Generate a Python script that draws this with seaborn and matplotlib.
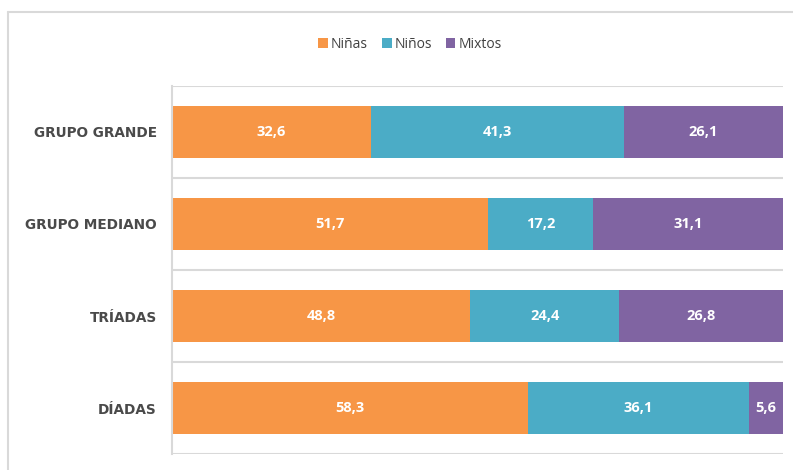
import numpy as np
import pandas as pd
import seaborn as sns
import matplotlib.pyplot as plt
from matplotlib.lines import Line2D
from matplotlib.patches import Patch

# Datos
grupos = ['GRUPO GRANDE', 'GRUPO MEDIANO', 'TRÍADAS', 'DÍADAS']
ninas = [32.6, 51.7, 48.8, 58.3]
ninos = [41.3, 17.2, 24.4, 36.1]
mixtos = [26.1, 31.1, 26.8, 5.6]
series = ['Niñas', 'Niños', 'Mixtos']
colores = ['#F79646', '#4BACC6', '#8064A2']

df = pd.DataFrame({'grupo': grupos, 'Niñas': ninas, 'Niños': ninos, 'Mixtos': mixtos})
df['acum_ninas'] = df['Niñas']
df['acum_ninos'] = df['Niñas'] + df['Niños']
df['acum_mixtos'] = df['acum_ninos'] + df['Mixtos']

sns.set_theme(style='white')
plt.rcParams['font.family'] = ['Open Sans', 'DejaVu Sans']

fig = plt.figure(figsize=(7.93, 4.70), dpi=100)
ax = fig.add_axes([172 / 793, 1 - 454 / 470, (783 - 172) / 793, (454 - 86) / 470])

# Barras apiladas: se dibuja el acumulado de mayor a menor
for col, color in zip(['acum_mixtos', 'acum_ninos', 'acum_ninas'], colores[::-1]):
    sns.barplot(data=df, x=col, y='grupo', orient='h', color=color,
                width=0.565, saturation=1, ax=ax, linewidth=0)

# Etiquetas de valores
for i, row in df.iterrows():
    inicio = 0
    for s in series:
        v = row[s]
        ax.text(inicio + v / 2, i, f'{v:.1f}'.replace('.', ','), ha='center', va='center',
                color='white', fontsize=10.5, fontweight='bold')
        inicio += v

ax.set_xlim(0, 100)
ax.set_ylim(3.5, -0.5)
ax.set_xlabel('')
ax.set_ylabel('')
ax.set_xticks([])
ax.set_yticks(range(len(grupos)))
ax.set_yticklabels(grupos, fontsize=9.8, fontweight='bold', color='#4a4a4a',
                   family=['DejaVu Sans'])
ax.tick_params(axis='y', length=0, pad=11)

# Líneas de separación entre categorías
for y in np.arange(-0.5, len(grupos), 1.0):
    ax.axhline(y, color='#d9d9d9', linewidth=1.5, zorder=0)
for s in ['top', 'right', 'bottom']:
    ax.spines[s].set_visible(False)
ax.spines['left'].set_color('#d9d9d9')
ax.spines['left'].set_linewidth(1.5)

# Marco exterior
fig.add_artist(Line2D([8 / 793, 8 / 793], [0, 1 - 12 / 470], color='#d9d9d9', lw=1.5))
fig.add_artist(Line2D([8 / 793, 1], [1 - 12 / 470, 1 - 12 / 470], color='#d9d9d9', lw=1.5))

# Leyenda
handles = [Patch(facecolor=c, edgecolor='none') for c in colores]
fig.legend(handles, series, loc='center', bbox_to_anchor=(0.517, 1 - 44 / 470), ncol=3,
           frameon=False, fontsize=10, handlelength=0.7, handleheight=0.7,
           handletextpad=0.2, columnspacing=1.0, labelcolor='#404040')

fig.savefig('out.png', dpi=100, facecolor='white')
